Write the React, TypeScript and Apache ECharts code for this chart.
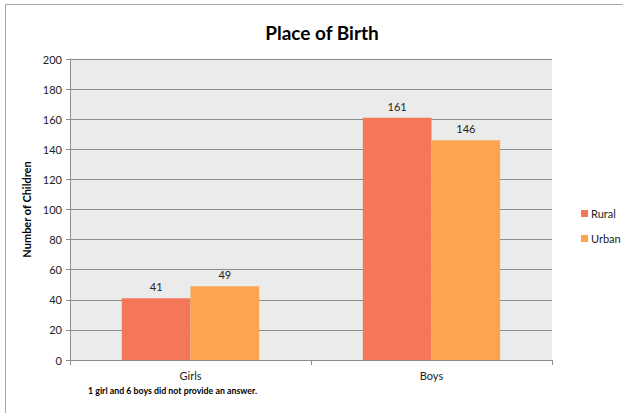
import React, { useEffect, useRef } from "react";
import * as echarts from "echarts";

const categories = ["Girls", "Boys"];
const seriesNames = ["Rural", "Urban"];
const ruralValues = [41, 161];
const urbanValues = [49, 146];
const yTicks = { min: 0, max: 200, interval: 20 };
const titleText = "Place of Birth";
const yAxisName = "Number of Children";
const footnote = "1 girl and 6 boys did not provide an answer.";

const FONT = "Lato, 'Open Sans', sans-serif";

export default function App() {
  const ref = useRef<HTMLDivElement>(null);
  useEffect(() => {
    if (!ref.current) return;
    const chart = echarts.init(ref.current, undefined, { renderer: "svg" });
    chart.setOption({
      animation: false,
      backgroundColor: "#ffffff",
      textStyle: { fontFamily: FONT },
      title: {
        text: titleText,
        left: 317,
        textAlign: "center",
        top: 18,
        textStyle: { fontSize: 19, fontWeight: "bold", color: "#000", fontFamily: FONT },
      },
      legend: {
        orient: "vertical",
        left: 576,
        top: 203,
        itemWidth: 7,
        itemHeight: 7,
        itemGap: 14,
        icon: "rect",
        textStyle: { fontSize: 11, color: "#222", fontFamily: FONT, padding: [0, 0, 0, -2] },
        data: seriesNames,
      },
      grid: { left: 70, top: 59, right: 71, bottom: 53, containLabel: false,
        show: true, backgroundColor: "#ebebeb", borderWidth: 0 },
      xAxis: {
        type: "category",
        data: categories,
        axisLine: { lineStyle: { color: "#8c8c8c" } },
        axisTick: { show: true, alignWithLabel: false, length: 5, lineStyle: { color: "#8c8c8c" } },
        axisLabel: { fontSize: 11, color: "#222", margin: 10, fontFamily: FONT },
      },
      yAxis: {
        type: "value",
        min: yTicks.min,
        max: yTicks.max,
        interval: yTicks.interval,
        name: yAxisName,
        nameLocation: "middle",
        nameGap: 32,
        nameTextStyle: { fontSize: 11, fontWeight: "bold", color: "#000", fontFamily: FONT },
        axisLine: { show: true, lineStyle: { color: "#8c8c8c" } },
        axisTick: { show: true, length: 4, lineStyle: { color: "#8c8c8c" } },
        axisLabel: { fontSize: 11, color: "#222", margin: 8, fontFamily: FONT },
        splitLine: { lineStyle: { color: "#8c8c8c", width: 1 } },
      },
      series: [
        {
          name: seriesNames[0],
          type: "bar",
          data: ruralValues,
          barGap: "0%",
          barCategoryGap: "43%",
          itemStyle: { color: "#f4775a" },
          label: { show: true, position: "top", distance: 6, fontSize: 11, color: "#222", fontFamily: FONT },
        },
        {
          name: seriesNames[1],
          type: "bar",
          data: urbanValues,
          barGap: "0%",
          barCategoryGap: "43%",
          itemStyle: { color: "#fba64f" },
          label: { show: true, position: "top", distance: 6, fontSize: 11, color: "#222", fontFamily: FONT },
        },
      ],
      graphic: [
        {
          type: "rect",
          silent: true,
          shape: { x: 5.5, y: 4.5, width: 700, height: 500 },
          style: { fill: "none", stroke: "#a6a6a6", lineWidth: 1 },
          z: -1,
        },
        {
          type: "text",
          left: 88,
          top: 386,
          style: { text: footnote, fontSize: 8.8, fontWeight: "bold", fill: "#000", fontFamily: FONT },
        },
      ],
    });
    return () => chart.dispose();
  }, []);
  return (
    <div
      ref={ref}
      style={{ position: "absolute", left: 0, top: 0, width: 623, height: 413 }}
    />
  );
}
